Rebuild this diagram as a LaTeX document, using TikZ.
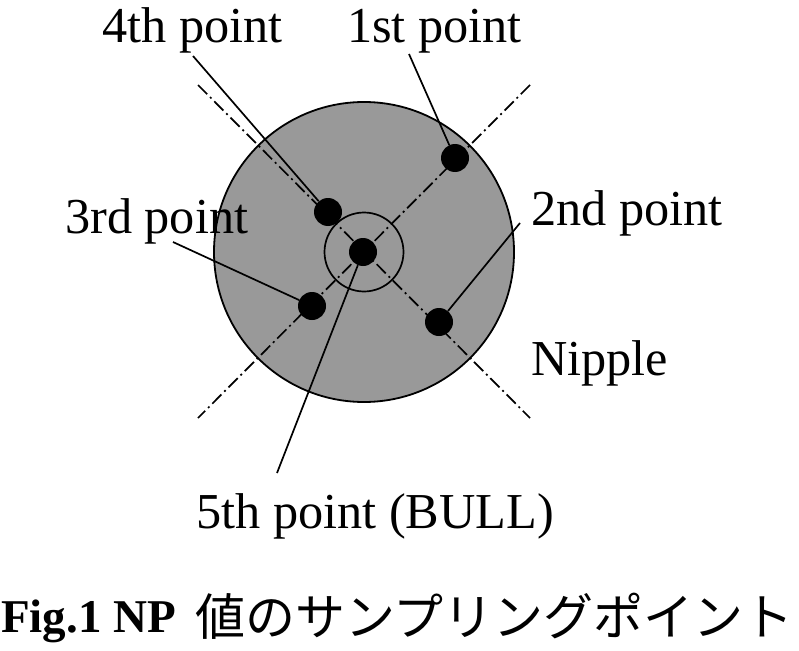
\documentclass[tikz,border=0pt]{standalone}
\usepackage{fontspec}
\setmainfont{Liberation Serif}
\newfontfamily\cjk{Noto Sans CJK JP}
\definecolor{diskgray}{RGB}{153,153,153}
\tikzset{
  lbl/.style={anchor=base west, inner sep=0pt, font=\fontsize{50.3bp}{58bp}\selectfont},
  dot/.style={circle, fill=black, inner sep=0pt, minimum size=28bp},
  axis/.style={line width=1.7bp, dash pattern=on 13bp off 4bp on 2bp off 4bp},
  leader/.style={line width=1.7bp},
}
\begin{document}
\begin{tikzpicture}[x=1bp,y=-1bp]
\path[use as bounding box] (0,0) rectangle (799,651);
% disk and ring
\node[circle, draw, line width=1.8bp, fill=diskgray, inner sep=0pt, minimum size=300bp] (disk) at (364,252) {};
\node[circle, draw, line width=1.7bp, inner sep=0pt, minimum size=79bp] (ring) at (364,252) {};
% axes
\coordinate (a1) at (198,85);
\coordinate (a2) at (530,418);
\coordinate (b1) at (530,85);
\coordinate (b2) at (198,418);
\draw[axis] (a1) -- (a2);
\draw[axis] (b1) -- (b2);
% sampling points
\node[dot] (p1) at (455,158) {};
\node[dot] (p2) at (439,322) {};
\node[dot] (p3) at (312,306) {};
\node[dot] (p4) at (328,212) {};
\node[dot] (p5) at (363,252) {};
% labels
\node[lbl] (t4) at (102,43) {4th point};
\node[lbl] (t1) at (347,43) {1st point};
\node[lbl] (t3) at (65,233) {3rd point};
\node[lbl] (t2) at (531,225) {2nd point};
\node[lbl] (tn) at (531,375) {Nipple};
\node[lbl] (t5) at (196,528) {5th point (BULL)};
% leader start points
\coordinate (l4) at (193,56);
\coordinate (l1) at (409,54);
\coordinate (l3) at (173,242);
\coordinate (l2) at (520,223);
\coordinate (l5) at (277,473);
\draw[leader] (l4) -- (p4);
\draw[leader] (l1) -- (p1);
\draw[leader] (l3) -- (p3);
\draw[leader] (l2) -- (p2);
\draw[leader] (l5) -- (p5);
% caption
\node[anchor=base west, inner sep=0pt, font=\fontsize{47bp}{56bp}\selectfont\bfseries] (capA) at (1,632) {Fig.1 NP};
\node[anchor=base west, inner sep=0pt, font=\fontsize{50bp}{58bp}\selectfont\cjk] (capB) at (195,635) {値のサンプリングポイント};
\end{tikzpicture}
\end{document}
